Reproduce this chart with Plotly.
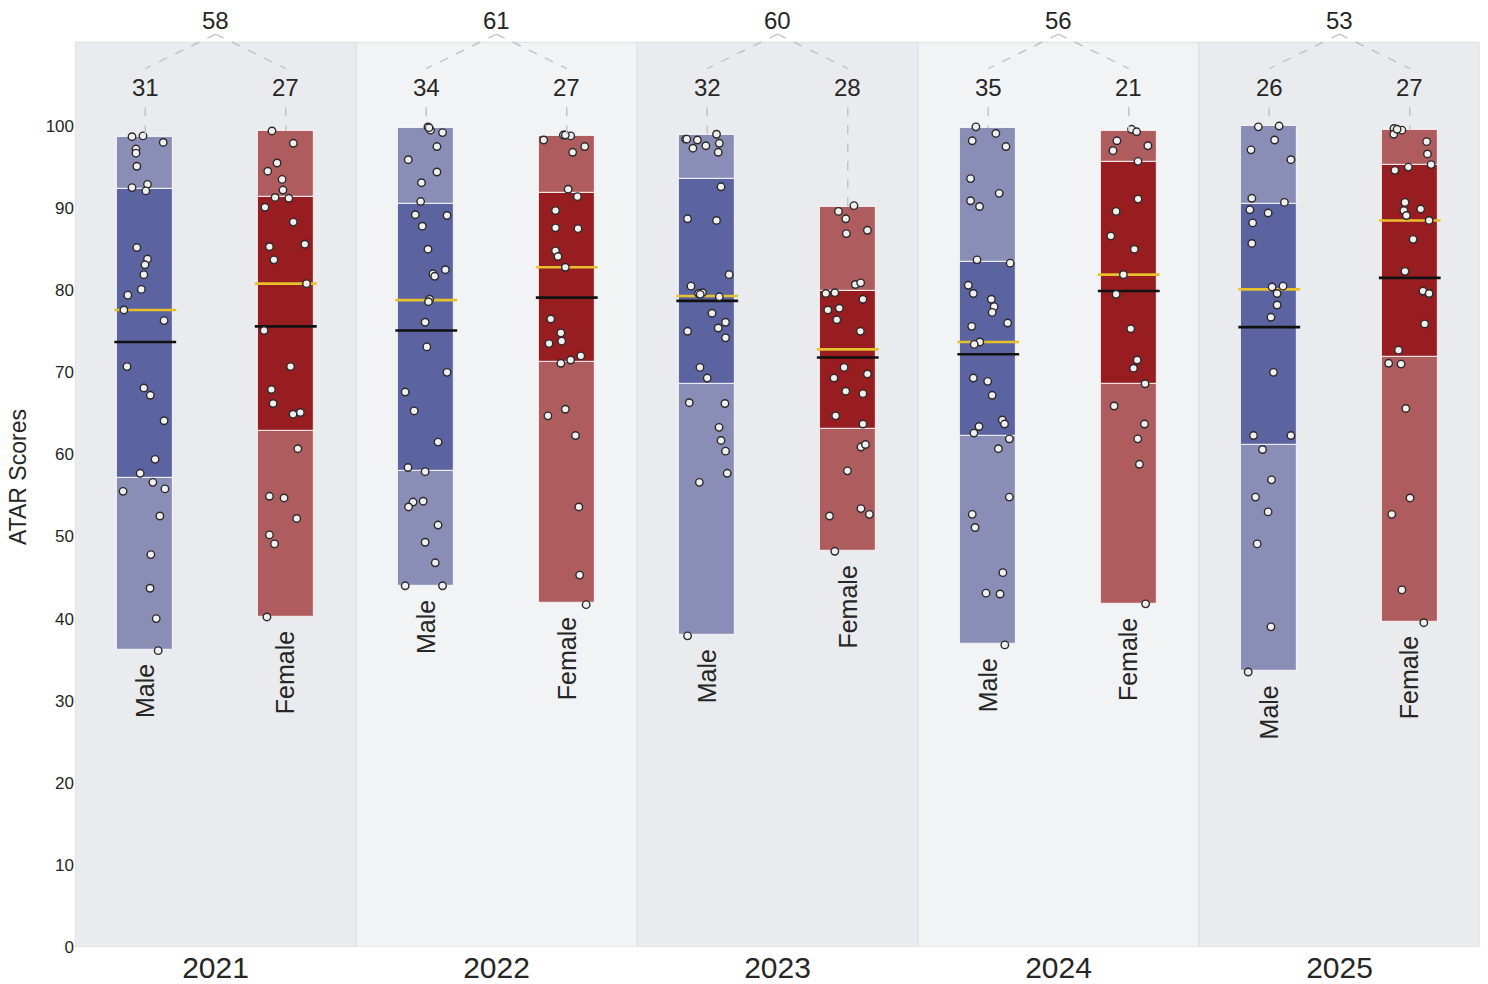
import plotly.graph_objects as go

# ---------------- data ----------------
years = ["2021", "2022", "2023", "2024", "2025"]
genders = ["Male", "Female"]

male_count = [31, 34, 32, 35, 26]
female_count = [27, 27, 28, 21, 27]

male_min = [36.2, 44.0, 38.0, 36.9, 33.6]
male_q1 = [57.1, 58.0, 68.6, 62.3, 61.1]
male_median = [73.7, 75.1, 78.7, 72.2, 75.5]
male_mean = [77.6, 78.8, 79.3, 73.7, 80.1]
male_q3 = [92.3, 90.5, 93.6, 83.5, 90.5]
male_max = [98.7, 99.8, 98.9, 99.8, 100.0]

female_min = [40.2, 41.9, 48.2, 41.8, 39.6]
female_q1 = [62.8, 71.2, 63.1, 68.6, 71.9]
female_median = [75.6, 79.1, 71.8, 79.9, 81.5]
female_mean = [80.8, 82.8, 72.8, 81.9, 88.5]
female_q3 = [91.3, 91.8, 79.9, 95.6, 95.2]
female_max = [99.4, 98.8, 90.1, 99.4, 99.5]

# individual ATAR scores (and horizontal jitter)
m2021 = [98.7, 98.8, 98.0, 97.2, 96.7, 95.1, 92.5, 92.9, 92.1, 85.2, 83.8, 83.1, 81.9, 80.1, 79.4, 77.6,
         76.3, 70.7, 68.1, 67.2, 64.1, 59.4, 57.7, 56.6, 55.5, 55.8, 52.5, 47.8, 43.7, 40.0, 36.1]
m2021_jit = [-0.047, -0.008, 0.064, -0.033, -0.033, -0.030, -0.047, 0.008, 0.002, -0.030, 0.008, -0.001,
             -0.005, -0.014, -0.062, -0.076, 0.067, -0.065, -0.005, 0.018, 0.067, 0.035, -0.018, 0.027,
             -0.079, 0.070, 0.052, 0.020, 0.017, 0.039, 0.046]
f2021 = [99.4, 97.9, 95.5, 94.5, 93.5, 92.2, 91.3, 91.2, 90.1, 88.3, 85.3, 85.6, 83.7, 80.8, 75.1, 70.7,
         67.9, 66.2, 64.9, 65.1, 60.7, 54.9, 54.7, 52.2, 50.2, 49.1, 40.2]
f2021_jit = [-0.049, 0.027, -0.031, -0.064, -0.013, -0.010, -0.038, 0.011, -0.074, 0.027, -0.058, 0.068,
             -0.042, 0.074, -0.077, 0.017, -0.051, -0.045, 0.026, 0.052, 0.043, -0.058, -0.006, 0.039,
             -0.058, -0.040, -0.067]
m2022 = [99.9, 99.5, 99.2, 97.5, 95.9, 94.4, 93.1, 90.8, 89.2, 89.1, 87.8, 85.0, 82.0, 81.7, 82.5, 78.9,
         78.6, 76.1, 73.1, 70.0, 67.6, 65.3, 61.5, 58.4, 57.9, 54.2, 53.6, 54.3, 51.4, 49.3, 46.8, 44.0,
         44.0, 99.8]
m2022_jit = [0.006, 0.015, 0.058, 0.038, -0.064, 0.038, -0.017, -0.020, -0.039, 0.074, -0.014, 0.006,
             0.024, 0.030, 0.068, 0.012, 0.008, -0.004, 0.002, 0.074, -0.075, -0.043, 0.042, -0.065,
             -0.004, -0.047, -0.063, -0.011, 0.042, -0.004, 0.032, -0.075, 0.058, 0.010]
f2022 = [98.9, 98.8, 98.9, 98.3, 97.5, 96.8, 92.3, 91.4, 89.7, 87.6, 87.5, 84.8, 84.1, 82.8, 76.5, 74.8,
         73.5, 73.8, 71.1, 71.5, 72.0, 65.5, 64.7, 62.3, 53.6, 45.3, 41.7]
f2022_jit = [-0.012, 0.014, -0.005, -0.082, 0.064, 0.021, 0.005, 0.038, -0.040, -0.040, 0.040, -0.040,
             -0.031, -0.005, -0.057, -0.021, -0.063, -0.018, -0.021, 0.014, 0.050, -0.005, -0.067, 0.031,
             0.043, 0.046, 0.069]
m2023 = [99.0, 98.4, 98.3, 97.3, 97.6, 97.9, 96.8, 92.6, 88.7, 88.5, 81.9, 80.5, 79.6, 79.7, 79.2, 77.2,
         76.1, 75.4, 75.0, 74.2, 70.6, 69.3, 66.3, 66.2, 63.3, 61.7, 60.4, 57.7, 56.6, 37.9, 98.4, 79.5]
m2023_jit = [0.033, -0.077, -0.035, -0.051, -0.005, 0.043, 0.039, 0.049, -0.070, 0.033, 0.078, -0.058,
             -0.031, -0.017, 0.043, 0.017, 0.065, 0.039, -0.070, 0.065, -0.026, 0.000, -0.064, 0.063,
             0.042, 0.049, 0.065, 0.071, -0.028, -0.070, -0.073, -0.025]
f2023 = [90.3, 89.6, 88.7, 86.9, 87.3, 80.7, 80.9, 79.6, 79.7, 78.9, 77.6, 77.8, 76.4, 75.0, 70.6, 69.3,
         69.8, 67.7, 67.4, 64.7, 63.7, 60.9, 61.2, 58.0, 52.5, 53.4, 52.7, 48.2]
f2023_jit = [0.022, -0.033, -0.007, -0.005, 0.070, 0.027, 0.046, -0.078, -0.046, 0.054, -0.071, -0.030,
             -0.039, 0.045, -0.013, -0.049, 0.070, -0.007, 0.054, -0.043, 0.054, 0.047, 0.063, -0.001,
             -0.065, 0.047, 0.077, -0.046]
m2024 = [99.9, 99.1, 98.2, 97.5, 93.6, 91.8, 90.9, 90.2, 83.7, 83.3, 80.6, 79.6, 78.9, 78.0, 77.3, 76.0,
         75.6, 73.7, 73.4, 69.3, 68.9, 67.2, 64.2, 63.7, 63.4, 62.6, 61.9, 60.7, 54.8, 52.7, 51.1, 45.6,
         43.1, 43.0, 36.8]
m2024_jit = [-0.044, 0.027, -0.057, 0.063, -0.063, 0.039, -0.063, -0.031, -0.040, 0.078, -0.071, -0.053,
             0.011, 0.021, 0.014, 0.069, -0.059, -0.030, -0.050, -0.053, -0.002, 0.014, 0.050, 0.058,
             -0.033, -0.051, 0.075, 0.036, 0.075, -0.057, -0.047, 0.052, -0.008, 0.042, 0.059]
f2024 = [99.6, 99.3, 98.2, 97.0, 97.6, 95.7, 91.1, 89.6, 86.6, 85.0, 81.9, 79.5, 75.3, 71.5, 70.5, 68.6,
         65.9, 63.7, 61.9, 58.8, 41.8]
f2024_jit = [0.010, 0.028, -0.042, -0.056, 0.068, 0.033, 0.033, -0.045, -0.064, 0.020, -0.019, -0.045,
             0.007, 0.030, 0.017, 0.058, -0.052, 0.056, 0.032, 0.038, 0.060]
m2025 = [99.9, 100.0, 98.3, 97.1, 95.9, 91.2, 90.7, 89.8, 89.4, 88.2, 85.7, 80.4, 80.5, 79.6, 78.2, 76.7,
         70.0, 62.3, 62.3, 60.6, 56.9, 54.8, 53.0, 49.1, 39.0, 33.5]
m2025_jit = [-0.039, 0.035, 0.019, -0.065, 0.077, -0.062, 0.054, -0.069, -0.004, -0.059, -0.062, 0.010,
             0.049, 0.028, 0.028, 0.006, 0.015, -0.056, 0.077, -0.024, 0.008, -0.049, -0.004, -0.043,
             0.006, -0.075]
f2025 = [99.7, 99.5, 99.0, 98.1, 96.6, 95.3, 94.6, 95.0, 90.7, 89.7, 89.1, 89.9, 88.5, 86.2, 82.3, 79.9,
         79.6, 75.9, 72.7, 71.1, 71.0, 65.6, 54.7, 52.7, 43.5, 39.5, 99.6]
f2025_jit = [-0.056, -0.028, -0.057, 0.060, 0.063, 0.076, -0.053, -0.005, -0.017, -0.021, -0.012, 0.039,
             0.069, 0.012, -0.017, 0.047, 0.069, 0.053, -0.040, -0.075, -0.031, -0.014, 0.001, -0.064,
             -0.028, 0.050, -0.045]

male_scores = [m2021, m2022, m2023, m2024, m2025]
male_jitter = [m2021_jit, m2022_jit, m2023_jit, m2024_jit, m2025_jit]
female_scores = [f2021, f2022, f2023, f2024, f2025]
female_jitter = [f2021_jit, f2022_jit, f2023_jit, f2024_jit, f2025_jit]

# ---------------- style ----------------
FONT = "Arial, 'Liberation Sans', sans-serif"
TXT = "#262626"
MALE_LIGHT, MALE_DARK = "#8a8eb7", "#5c63a1"
FEMALE_LIGHT, FEMALE_DARK = "#af5c5e", "#981d21"
MEAN_C, MEDIAN_C = "#e8c22c", "#111111"
BAND_COLORS = ["#eaebee", "#f2f3f5"]
DASH_C = "#c4c4c4"
OFFSET = 0.25
BOX_W = 0.2
LINE_HALF = 0.11
BAND_TOP = 110.2
TOTAL_Y, LINK_TOP, LINK_BOT, COUNT_Y, STEM_TOP = 112.8, 111.2, 107.0, 104.75, 102.3

n = len(years)
idx = list(range(n))

fig = go.Figure()

groups = [
    (-OFFSET, "Male", male_min, male_q1, male_median, male_mean, male_q3, male_max,
     male_scores, male_jitter, male_count, MALE_LIGHT, MALE_DARK),
    (OFFSET, "Female", female_min, female_q1, female_median, female_mean, female_q3, female_max,
     female_scores, female_jitter, female_count, FEMALE_LIGHT, FEMALE_DARK),
]

annotations = []
shapes = []

# background bands per year
for i in idx:
    shapes.append(dict(type="rect", xref="x", yref="y", x0=i - 0.5, x1=i + 0.5, y0=0, y1=BAND_TOP,
                       fillcolor=BAND_COLORS[i % 2], line=dict(color="#dcdee2", width=1), layer="below"))

for off, name, mn, q1, med, mean, q3, mx, scores, jit, cnt, light, dark in groups:
    xs = [i + off for i in idx]
    seg_line = dict(color="rgba(255,255,255,0.75)", width=1.2)
    fig.add_trace(go.Bar(x=xs, base=mn, y=[a - b for a, b in zip(q1, mn)], width=BOX_W,
                         marker=dict(color=light, line=seg_line), showlegend=False, hoverinfo="skip"))
    fig.add_trace(go.Bar(x=xs, base=q1, y=[a - b for a, b in zip(q3, q1)], width=BOX_W,
                         marker=dict(color=dark, line=seg_line), showlegend=False, hoverinfo="skip"))
    fig.add_trace(go.Bar(x=xs, base=q3, y=[a - b for a, b in zip(mx, q3)], width=BOX_W,
                         marker=dict(color=light, line=seg_line), showlegend=False, hoverinfo="skip"))
    # median / mean lines
    for vals, col in ((mean, MEAN_C), (med, MEDIAN_C)):
        lx, ly = [], []
        for x, v in zip(xs, vals):
            lx += [x - LINE_HALF, x + LINE_HALF, None]
            ly += [v, v, None]
        fig.add_trace(go.Scatter(x=lx, y=ly, mode="lines", line=dict(color=col, width=2.6),
                                 showlegend=False, hoverinfo="skip"))
    # points
    px_, py_ = [], []
    for x, sc, jt in zip(xs, scores, jit):
        px_ += [x + j for j in jt]
        py_ += sc
    fig.add_trace(go.Scatter(x=px_, y=py_, mode="markers",
                             marker=dict(size=7.5, color="#f1efef", line=dict(color="#2a2a2a", width=1.4)),
                             showlegend=False, hoverinfo="skip"))
    # labels
    for i, x in enumerate(xs):
        annotations.append(dict(x=x, y=mn[i], xref="x", yref="y", text=name, textangle=-90,
                                showarrow=False, yanchor="top", xanchor="center", yshift=-12,
                                font=dict(size=25, color=TXT, family=FONT)))
        annotations.append(dict(x=x, y=COUNT_Y, xref="x", yref="y", text=str(cnt[i]), showarrow=False,
                                yanchor="middle", xanchor="center",
                                font=dict(size=24, color=TXT, family=FONT)))
        shapes.append(dict(type="line", xref="x", yref="y", x0=x, x1=x, y0=STEM_TOP, y1=mx[i],
                           line=dict(color=DASH_C, width=1.5, dash="dash")))
        shapes.append(dict(type="line", xref="x", yref="y", x0=i, x1=x, y0=LINK_TOP, y1=LINK_BOT,
                           line=dict(color=DASH_C, width=1.5, dash="dash")))

for i in idx:
    annotations.append(dict(x=i, y=TOTAL_Y, xref="x", yref="y", text=str(male_count[i] + female_count[i]),
                            showarrow=False, yanchor="middle", xanchor="center",
                            font=dict(size=24, color=TXT, family=FONT)))

fig.update_layout(
    width=1488, height=984,
    margin=dict(l=75, r=8, t=7, b=37),
    paper_bgcolor="white", plot_bgcolor="white",
    barmode="overlay", bargap=0,
    font=dict(family=FONT, color=TXT),
    shapes=shapes, annotations=annotations,
    showlegend=False,
    xaxis=dict(range=[-0.5, n - 0.5], tickvals=idx, ticktext=years, showgrid=False, zeroline=False,
               showline=False, ticks="", automargin=False,
               tickfont=dict(size=30, color=TXT, family=FONT)),
    yaxis=dict(range=[0, 114.5], tickvals=list(range(0, 101, 10)), showgrid=False, zeroline=False,
               showline=False, ticks="", automargin=False,
               tickfont=dict(size=17, color=TXT, family=FONT),
               title=dict(text="ATAR Scores", font=dict(size=23, color=TXT, family=FONT), standoff=12)),
)

fig.write_html("out.html", config={"displayModeBar": False},
               post_script="document.body.style.margin='0';document.body.style.overflow='hidden';")
